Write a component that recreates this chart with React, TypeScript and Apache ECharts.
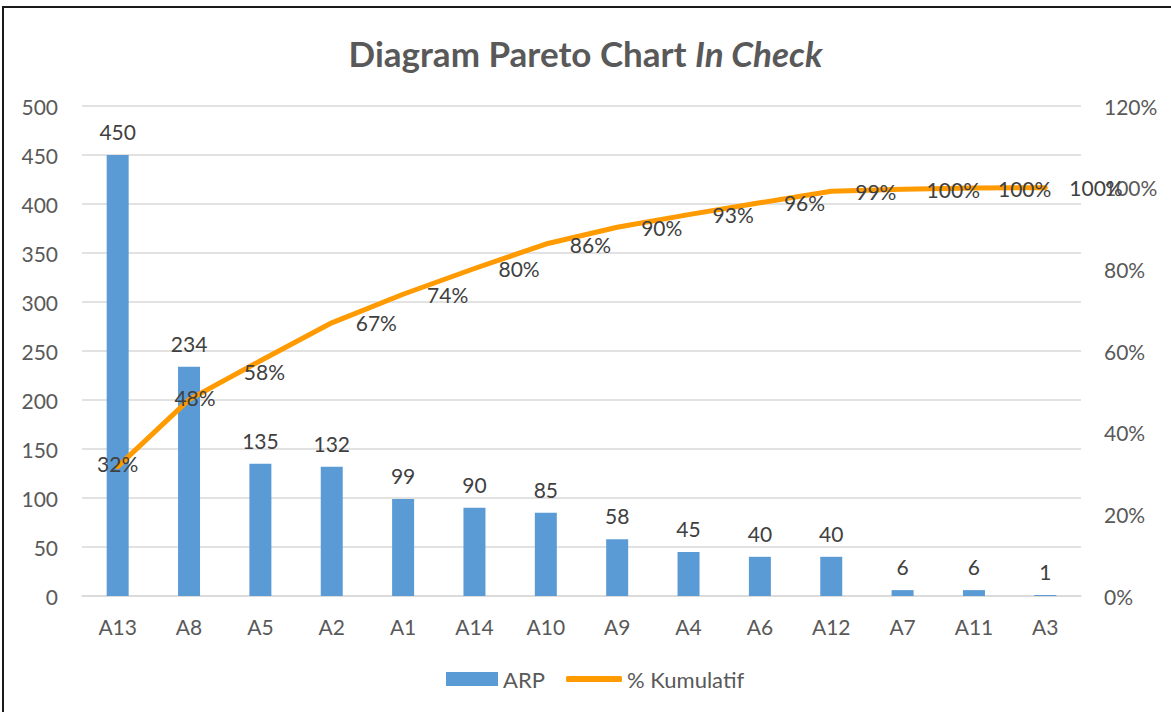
import React, { useEffect, useRef } from "react";
import * as echarts from "echarts";

const categories = ["A13", "A8", "A5", "A2", "A1", "A14", "A10", "A9", "A4", "A6", "A12", "A7", "A11", "A3"];
const arpValues = [450, 234, 135, 132, 99, 90, 85, 58, 45, 40, 40, 6, 6, 1];
const cumulativePct = [31.7, 48.1, 57.6, 66.9, 73.9, 80.2, 86.2, 90.3, 93.4, 96.3, 99.1, 99.6, 99.9, 100];
const seriesNames = ["ARP", "% Kumulatif"];
const titleMain = "Diagram Pareto Chart ";
const titleItalic = "In Check";

const FONT = "Lato, 'Liberation Sans', sans-serif";
const AXIS_COLOR = "#595959";
const LABEL_COLOR = "#404040";
const BAR_COLOR = "#5B9BD5";
const LINE_COLOR = "#FF9A00";
const GRID_COLOR = "#D9D9D9";
const FS = 21;

// label placement tweaks for the first few cumulative points (centred on the line)
const centredLabelOffsets: number[][] = [[0, -3], [6, -2], [4, 11]];

export default function App() {
  const ref = useRef<HTMLDivElement>(null);
  useEffect(() => {
    if (!ref.current) return;
    const chart = echarts.init(ref.current, null, { renderer: "svg" });
    const lineData = cumulativePct.map((v, i) =>
      i < centredLabelOffsets.length
        ? { value: v, label: { position: "inside", offset: centredLabelOffsets[i] } }
        : { value: v }
    );
    chart.setOption({
      animation: false,
      backgroundColor: "#ffffff",
      title: {
        text: `{a|${titleMain}}{b|${titleItalic}}`,
        left: "center",
        top: 30,
        textStyle: {
          rich: {
            a: { fontFamily: FONT, fontSize: 35, fontWeight: "bold", color: AXIS_COLOR },
            b: { fontFamily: FONT, fontSize: 35, fontWeight: "bold", fontStyle: "italic", color: AXIS_COLOR },
          },
        },
      },
      graphic: [
        {
          type: "rect",
          shape: { x: 3, y: 7, width: 1180, height: 720 },
          style: { fill: "none", stroke: "#1a1a1a", lineWidth: 2 },
          silent: true,
          z: 100,
        },
      ],
      legend: [
        {
          data: [{ name: seriesNames[0], icon: "rect" }],
          left: 446,
          top: 668,
          padding: 0,
          itemWidth: 52,
          itemHeight: 14,
          itemGap: 0,
          textStyle: { fontFamily: FONT, fontSize: 22, color: AXIS_COLOR },
        },
        {
          data: [{ name: seriesNames[1], icon: "roundRect" }],
          left: 566,
          top: 668,
          padding: 0,
          itemWidth: 56,
          itemHeight: 6,
          textStyle: { fontFamily: FONT, fontSize: 22, color: AXIS_COLOR },
        },
      ],
      grid: { left: 82, right: 90, top: 106, bottom: 116, containLabel: false },
      xAxis: {
        type: "category",
        data: categories,
        axisTick: { show: false },
        axisLine: { show: true, lineStyle: { color: GRID_COLOR, width: 1.5 } },
        axisLabel: { margin: 20, fontFamily: FONT, fontSize: FS, color: AXIS_COLOR },
      },
      yAxis: [
        {
          type: "value",
          min: 0,
          max: 500,
          interval: 50,
          axisLine: { show: false },
          axisTick: { show: false },
          splitLine: { lineStyle: { color: GRID_COLOR, width: 1.5 } },
          axisLabel: { margin: 24, fontFamily: FONT, fontSize: FS, color: AXIS_COLOR },
        },
        {
          type: "value",
          min: 0,
          max: 120,
          interval: 20,
          position: "right",
          axisLine: { show: false },
          axisTick: { show: false },
          splitLine: { show: false },
          axisLabel: { margin: 23, fontFamily: FONT, fontSize: FS, color: AXIS_COLOR, formatter: "{value}%" },
        },
      ],
      series: [
        {
          name: seriesNames[0],
          type: "bar",
          data: arpValues,
          barWidth: 22,
          itemStyle: { color: BAR_COLOR },
          label: {
            show: true,
            position: "top",
            distance: 13,
            fontFamily: FONT,
            fontSize: FS,
            color: LABEL_COLOR,
          },
          z: 2,
        },
        {
          name: seriesNames[1],
          type: "line",
          yAxisIndex: 1,
          data: lineData,
          symbol: "circle",
          symbolSize: 2,
          showSymbol: true,
          itemStyle: { color: LINE_COLOR },
          lineStyle: { color: LINE_COLOR, width: 5, cap: "round", join: "round" },
          label: {
            show: true,
            position: "right",
            distance: 23,
            fontFamily: FONT,
            fontSize: FS,
            color: LABEL_COLOR,
            formatter: (p: any) => Math.round(p.value) + "%",
          },
          z: 3,
        },
      ],
    });
    return () => chart.dispose();
  }, []);
  return <div ref={ref} style={{ position: "absolute", left: 0, top: 0, width: 1171, height: 712 }} />;
}
